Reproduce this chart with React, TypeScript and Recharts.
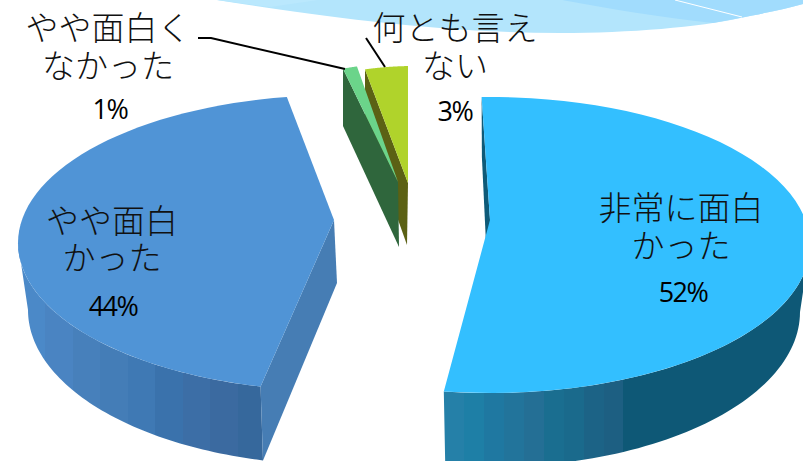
import React from "react";
import { PieChart, Pie, Customized } from "recharts";

// Survey answers, listed counter-clockwise from the top of the pie
const answers = ["何とも言えない", "やや面白くなかった", "やや面白かった", "非常に面白かった"];
const shares = [3, 1, 44, 52];
const rows = answers.map((name, i) => ({ name, value: shares[i] }));

type Wedge = {
  cx: number; cy: number; rx: number; ry: number;
  apex: [number, number]; apexDrop: [number, number];
  depth: number; rxBase: number; ryBase: number;
  nudgeStart: number; nudgeEnd: number;
  top: string; cut: string; wall: string;
};

// Each wedge is pulled out of the pie, and the view is in perspective
const wedges: Record<string, Wedge> = {
  "非常に面白かった": {
    cx: 490, cy: 245, rx: 320, ry: 148, apex: [490, 220], apexDrop: [-2, 65],
    depth: 67, rxBase: 310, ryBase: 155, nudgeStart: 0, nudgeEnd: 2.6,
    top: "#33bfff", cut: "#0e5a78", wall: "url(#wallCyan)",
  },
  "やや面白かった": {
    cx: 338, cy: 243, rx: 320, ry: 148, apex: [334, 220], apexDrop: [3, 63],
    depth: 67, rxBase: 310, ryBase: 155, nudgeStart: 8.3, nudgeEnd: 6.7,
    top: "#5094d6", cut: "#467db4", wall: "url(#wallBlue)",
  },
  "やや面白くなかった": {
    cx: 406, cy: 211, rx: 230, ry: 148, apex: [398, 182], apexDrop: [1, 65],
    depth: 64, rxBase: 230, ryBase: 155, nudgeStart: 0, nudgeEnd: 0,
    top: "#6bd48a", cut: "#2f663c", wall: "#2f663c",
  },
  "何とも言えない": {
    cx: 414, cy: 214, rx: 230, ry: 148, apex: [408, 183], apexDrop: [-1, 62],
    depth: 64, rxBase: 230, ryBase: 155, nudgeStart: 0, nudgeEnd: 0,
    top: "#b0d32b", cut: "#5b6114", wall: "#5b6114",
  },
};

type Caption = {
  lines: string[]; x: number; baselines: number[];
  pctX: number; pctY: number; leader?: string;
};

const captions: Record<string, Caption> = {
  "非常に面白かった": { lines: ["非常に面白", "かった"], x: 681, baselines: [220, 258], pctX: 683, pctY: 302 },
  "やや面白かった": { lines: ["やや面白", "かった"], x: 112, baselines: [233, 270], pctX: 113, pctY: 316 },
  "やや面白くなかった": {
    lines: ["やや面白く", "なかった"], x: 108, baselines: [40, 78], pctX: 110, pctY: 119,
    leader: "M198 38 L211 38 L345 69",
  },
  "何とも言えない": {
    lines: ["何とも言え", "ない"], x: 455, baselines: [40, 78], pctX: 455, pctY: 121,
    leader: "M366 38 L385 67",
  },
};

const cyanBands = ["#2580a8", "#1e7fa6", "#1f78a1", "#22749b", "#246f95", "#1a6e90", "#1a6a8c", "#1c6386", "#1d5f82"];
const blueBands = ["#4b89c8", "#4a84c2", "#4780bb", "#447db7", "#3f79b4", "#3a72ac", "#3c6ea6", "#3b6aa0", "#36689c"];

const rad = (d: number) => (d * Math.PI) / 180;

function rim(cx: number, cy: number, rx: number, ry: number, from: number, to: number) {
  const steps = 64;
  const out: string[] = [];
  for (let i = 0; i <= steps; i++) {
    const c = from + ((to - from) * i) / steps;
    out.push(`${(cx + rx * Math.sin(rad(c))).toFixed(2)} ${(cy - ry * Math.cos(rad(c))).toFixed(2)}`);
  }
  return out;
}

// Only the part of the rim facing the viewer shows an outer wall
function facingRange(a: number, b: number): [number, number] | null {
  for (const [lo, hi] of [[90, 270], [-270, -90]]) {
    const s = Math.max(a, lo);
    const e = Math.min(b, hi);
    if (e > s) return [s, e];
  }
  return null;
}

function Slice3D(props: any) {
  const name: string = props.payload?.name ?? props.name;
  const w = wedges[name];
  // Recharts angles run counter-clockwise from +x; the rim runs clockwise from the top
  let c0 = 90 - props.endAngle + w.nudgeStart;
  c0 = ((c0 + 180) % 360 + 360) % 360 - 180;
  const c1 = c0 + (props.endAngle - props.startAngle) - w.nudgeStart + w.nudgeEnd;

  const baseCy = w.cy + w.depth;
  const topPts = rim(w.cx, w.cy, w.rx, w.ry, c0, c1);
  const topPath = `M${w.apex[0]} ${w.apex[1]} L${topPts.join(" L")} Z`;

  const startTop = topPts[0];
  const startBase = rim(w.cx, baseCy, w.rxBase, w.ryBase, c0, c0)[0];
  const apexBase = `${w.apex[0] + w.apexDrop[0]} ${w.apex[1] + w.apexDrop[1]}`;
  const cutPath = `M${startTop} L${startBase} L${apexBase} L${w.apex[0]} ${w.apex[1]} Z`;

  const face = facingRange(c0, c1);
  let wallPath = "";
  if (face) {
    const upper = rim(w.cx, w.cy, w.rx, w.ry, face[0], face[1]);
    const lower = rim(w.cx, baseCy, w.rxBase, w.ryBase, face[1], face[0]);
    wallPath = `M${upper.join(" L")} L${lower.join(" L")} Z`;
  }

  return (
    <g>
      {wallPath && <path d={wallPath} fill={w.wall} />}
      <path d={cutPath} fill={w.cut} />
      <path d={topPath} fill={w.top} />
    </g>
  );
}

function Caption3D(props: any) {
  const name: string = props.payload?.name ?? props.name;
  const c = captions[name];
  return (
    <g>
      {c.leader && <path d={c.leader} fill="none" stroke="#000" strokeWidth={2} />}
      <text
        textAnchor="middle"
        fontFamily="'Noto Sans CJK JP', sans-serif"
        fontWeight={300}
        fontSize={33}
        fill="#111"
      >
        {c.lines.map((line, i) => (
          <tspan key={line} x={c.x} y={c.baselines[i]}>
            {line}
          </tspan>
        ))}
        <tspan
          x={c.pctX}
          y={c.pctY}
          fontFamily="'Open Sans', sans-serif"
          fontWeight={400}
          fontSize={27}
          letterSpacing={-1.5}
          fill="#000"
        >
          {`${props.value}%`}
        </tspan>
      </text>
    </g>
  );
}

// Pale banner shape running off the top edge of the slide
function TopBanner() {
  return (
    <g>
      <path d="M217 0 C300 13 430 33 560 33 C630 33 700 27 740 18 C765 13 785 9 803 4 L803 0 Z" fill="#b3e5fc" />
      <path d="M217 0 L270 7 L318 0 Z" fill="#bae8fd" />
      <path d="M562 0 C610 9 660 17 713 23 L740 18 C765 13 785 9 803 4 L803 0 Z" fill="#a1dcfd" />
      <path d="M675 0 L742 17" stroke="#ffffff" strokeWidth={1} fill="none" />
    </g>
  );
}

function Bands({ id, colors, x1, x2 }: { id: string; colors: string[]; x1: number; x2: number }) {
  const n = colors.length;
  return (
    <linearGradient id={id} gradientUnits="userSpaceOnUse" x1={x1} y1={0} x2={x2} y2={0}>
      {colors.flatMap((c, i) => [
        <stop key={`${i}a`} offset={i / n} stopColor={c} />,
        <stop key={`${i}b`} offset={(i + 1) / n} stopColor={c} />,
      ])}
    </linearGradient>
  );
}

export default function App() {
  return (
    <div style={{ position: "absolute", left: 0, top: 0, width: 803, height: 461, overflow: "hidden", background: "#fff" }}>
      <PieChart width={803} height={461} margin={{ top: 0, right: 0, bottom: 0, left: 0 }}>
        <defs>
          <linearGradient id="wallCyan" gradientUnits="userSpaceOnUse" x1={444} y1={0} x2={803} y2={0}>
            {cyanBands.flatMap((c, i) => [
              <stop key={`${i}a`} offset={(i / cyanBands.length) * 0.5} stopColor={c} />,
              <stop key={`${i}b`} offset={((i + 1) / cyanBands.length) * 0.5} stopColor={c} />,
            ])}
            <stop offset={0.5} stopColor="#0e5876" />
            <stop offset={1} stopColor="#0e5876" />
          </linearGradient>
          <Bands id="wallBlue" colors={blueBands} x1={18} x2={265} />
        </defs>
        <Customized component={TopBanner} />
        <Pie
          data={rows}
          dataKey="value"
          nameKey="name"
          cx={401}
          cy={230}
          outerRadius={148}
          startAngle={91.5}
          endAngle={451.5}
          stroke="none"
          isAnimationActive={false}
          shape={Slice3D}
          label={Caption3D}
          labelLine={false}
        />
      </PieChart>
    </div>
  );
}
